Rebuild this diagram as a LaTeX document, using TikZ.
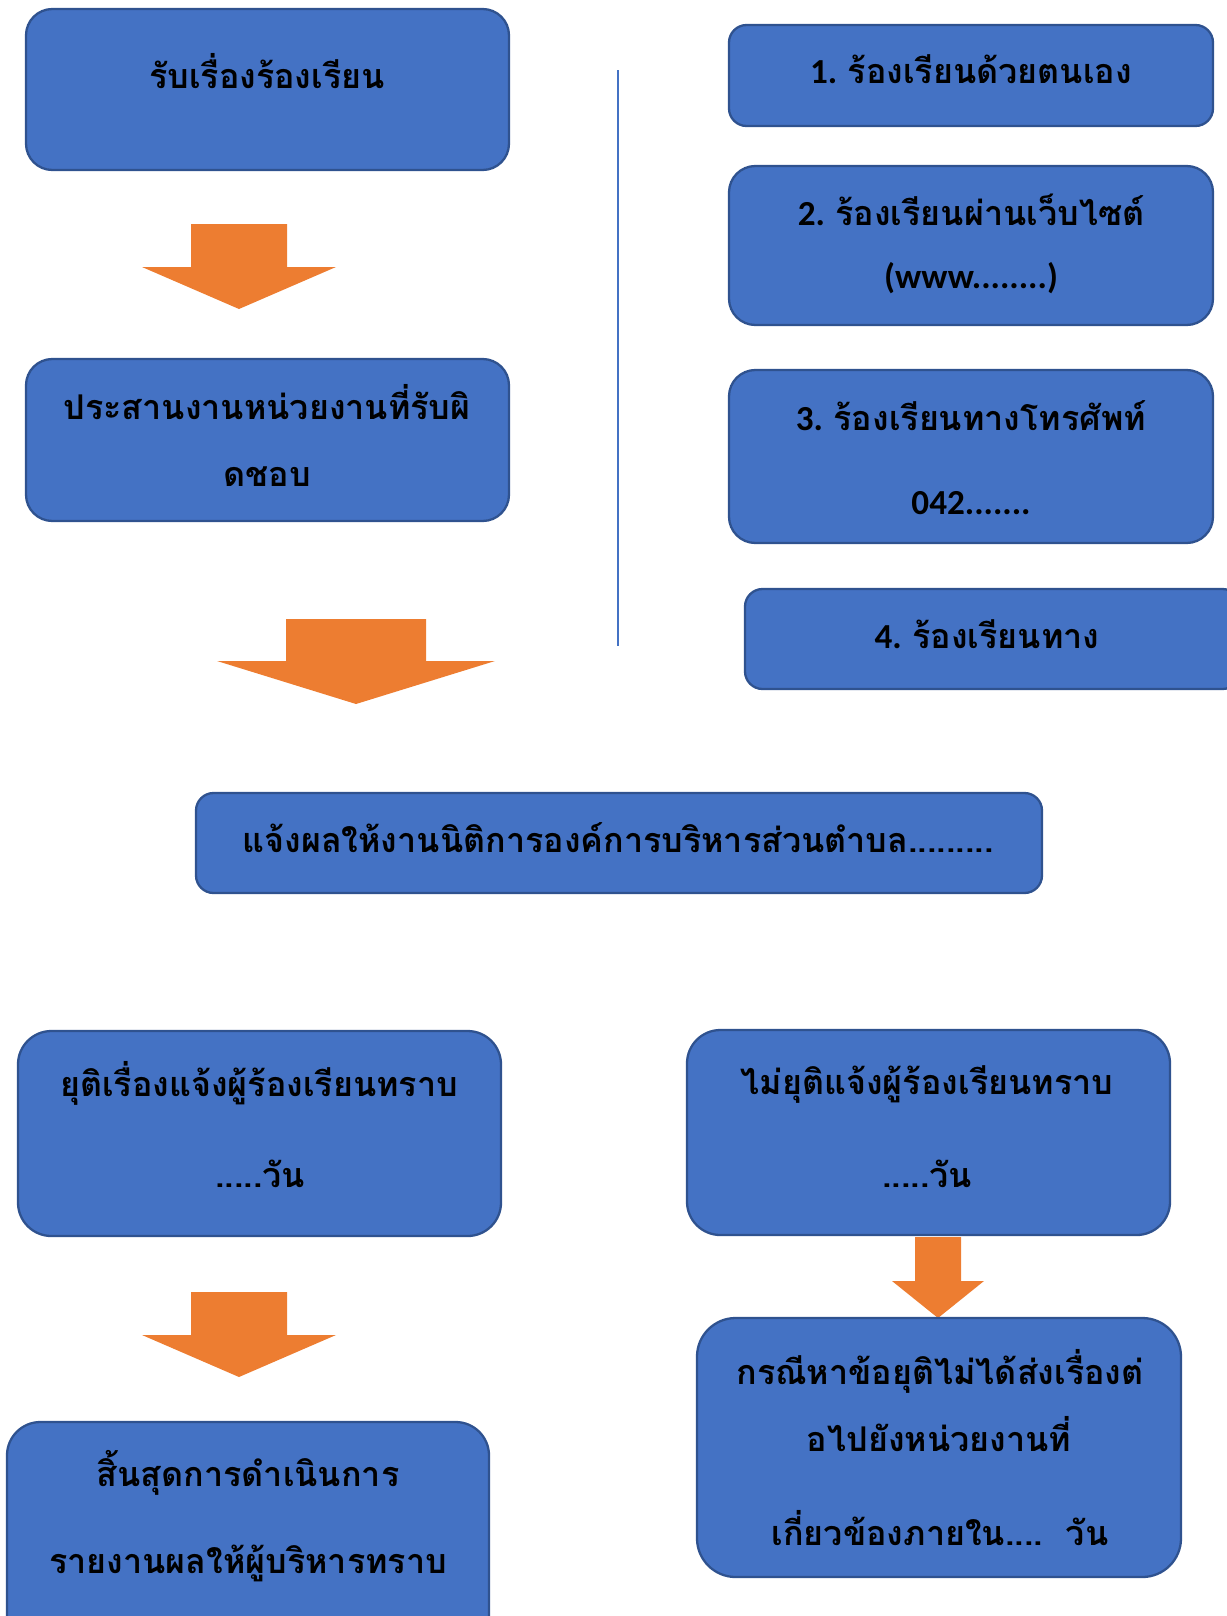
\documentclass[tikz,border=0pt]{standalone}
\usepackage{fontspec}
\setmainfont[Script=Thai]{Loma}
\newfontfamily\latfont{Carlito}
\newcommand{\lat}{\latfont\fontsize{20}{24}\selectfont}
\usetikzlibrary{fit}

\definecolor{boxblue}{HTML}{4472C4}
\definecolor{boxedge}{HTML}{2F528F}
\definecolor{arrorange}{HTML}{ED7D31}

\tikzset{
  box/.style={draw=boxedge, fill=boxblue, line width=1.3pt, inner sep=0pt, rounded corners=#1},
  box/.default=10pt,
  txt/.style={font=\fontsize{19.4}{24}\selectfont\bfseries, text=black, inner sep=0pt},
}

% block arrow: centre x, top y, half shaft, neck y, half head, tip y
\newcommand{\blockarrow}[6]{%
  \fill[arrorange] (#1-#3,#2) -- (#1+#3,#2) -- (#1+#3,#4) -- (#1+#5,#4)
    -- (#1,#6) -- (#1-#5,#4) -- (#1-#3,#4) -- cycle;}

\begin{document}
\begin{tikzpicture}[x=0.02cm, y=-0.02cm]
\useasboundingbox (0,0) rectangle (1227,1616);
\clip (0,0) rectangle (1227,1616);

% left column
\node[box=15pt, fit={(26,9) (509,170)}] (recv) {};
\node[box=15pt, fit={(26,359) (509,521)}] (coord) {};
\blockarrow{239}{224}{48}{267}{97}{309}
\blockarrow{356}{619}{70}{661}{139}{704}

\draw[boxblue, line width=0.8pt] (618,70) -- (618,646);

% ways to complain
\node[box=10pt, fit={(729,25) (1213,126)}] (way1) {};
\node[box=15pt, fit={(729,166) (1213,325)}] (way2) {};
\node[box=15pt, fit={(729,370) (1213,543)}] (way3) {};
\node[box=10pt, fit={(745,589) (1240,689)}] (way4) {};

\node[box=10pt, fit={(196,793) (1042,893)}] (notify) {};

% results
\node[box=19pt, fit={(18,1031) (501,1236)}] (done) {};
\node[box=19pt, fit={(687,1030) (1170,1235)}] (notdone) {};
\blockarrow{239}{1292}{48}{1335}{97}{1377}
\blockarrow{938}{1237}{23}{1281}{46}{1318}
\node[box=19pt, fit={(7,1422) (489,1660)}] (finish) {};
\node[box=22pt, fit={(697,1318) (1181,1577)}] (forward) {};

% texts
\node[txt] (tRecv) at (267,71) {รับเรื่องร้องเรียน};
\node[txt] (tCoord1) at (267,402) {ประสานงานหน่วยงานที่รับผิ};
\node[txt] (tCoord2) at (267,477) {ดชอบ};

\node[txt] (tWay1) at (971,69) {{\lat 1. }ร้องเรียนด้วยตนเอง};
\node[txt] (tWay2a) at (971,210) {{\lat 2. }ร้องเรียนผ่านเว็บไซต์};
\node[txt] (tWay2b) at (971,278) {\lat (www........)};
\node[txt] (tWay3a) at (971,416) {{\lat 3. }ร้องเรียนทางโทรศัพท์};
\node[txt] (tWay3b) at (971,503) {\lat 042.......};
\node[txt] (tWay4) at (987,634) {{\lat 4. }ร้องเรียนทาง};

\node[txt] (tNotify) at (618,838) {แจ้งผลให้งานนิติการองค์การบริหารส่วนตำบล.........};

\node[txt] (tDone1) at (259,1083) {ยุติเรื่องแจ้งผู้ร้องเรียนทราบ};
\node[txt] (tDone2) at (260,1174) {.....วัน};
\node[txt] (tNot1) at (927,1084) {ไม่ยุติแจ้งผู้ร้องเรียนทราบ};
\node[txt] (tNot2) at (927,1174) {.....วัน};
\node[txt] (tFin1) at (248,1473) {สิ้นสุดการดำเนินการ};
\node[txt] (tFin2) at (248,1563) {รายงานผลให้ผู้บริหารทราบ};
\node[txt] (tFwd1) at (940,1371) {กรณีหาข้อยุติไม่ได้ส่งเรื่องต่};
\node[txt] (tFwd2) at (939,1434) {อไปยังหน่วยงานที่};
\node[txt] (tFwd3) at (940,1528) {เกี่ยวข้องภายใน....~~วัน};
\end{tikzpicture}
\end{document}
